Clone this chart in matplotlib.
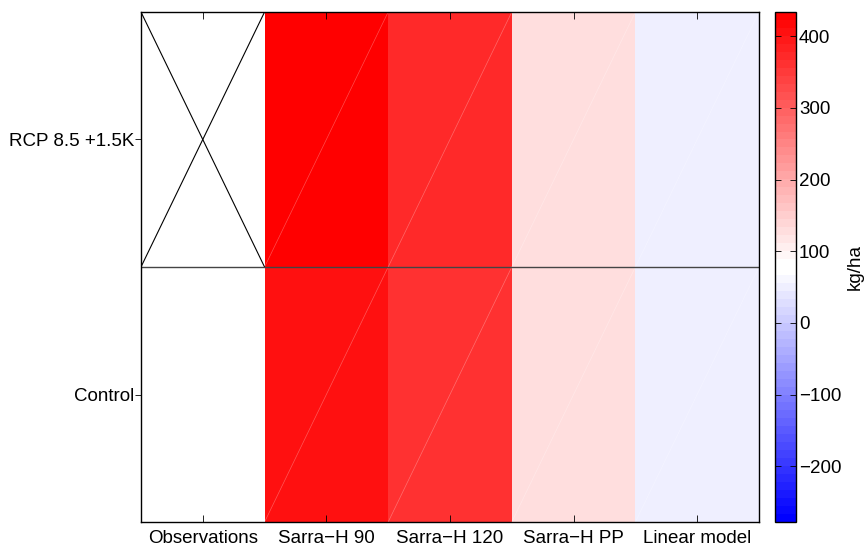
import numpy as np
import matplotlib
matplotlib.use('Agg')
import matplotlib.pyplot as plt
from matplotlib.colors import ListedColormap

plt.rcParams['font.family'] = ['Liberation Sans', 'DejaVu Sans']
plt.rcParams['font.size'] = 13.5

# data (kg/ha), rows bottom -> top
models = ['Observations', 'Sarra\u2212H 90', 'Sarra\u2212H 120', 'Sarra\u2212H PP', 'Linear model']
scenarios = ['Control', 'RCP 8.5 +1.5K']
control = [78, 405, 362, 124, 54]
rcp = [np.nan, 432, 370, 124, 54]
cbar_ticks = [-200, -100, 0, 100, 200, 300, 400]
vmin, vmax = -278, 434

data = np.array([control, rcp], dtype=float)

# 64-level blue-white-red map, two white bins in the middle
t = np.linspace(0, 1, 32)
lower = np.column_stack([t, t, np.ones(32)])
upper = np.column_stack([np.ones(32), 1 - t, 1 - t])
cmap = ListedColormap(np.vstack([lower, upper]))
cmap.set_bad('white')

fig = plt.figure(figsize=(8.67, 5.5), dpi=100)
ax = fig.add_axes([0.1626, 0.0509, 0.7128, 0.9273])
cax = fig.add_axes([0.894, 0.0509, 0.0242, 0.9273])

ncol = len(models)
nrow = len(scenarios)
mesh = ax.pcolormesh(np.arange(ncol + 1), np.arange(nrow + 1),
                     np.ma.masked_invalid(data), cmap=cmap, vmin=vmin, vmax=vmax)

# faint diagonal seams like the original renderer
for r in range(nrow):
    for c in range(1, ncol):
        ax.plot([c, c + 1], [r, r + 1], color='white', lw=0.5, alpha=0.3)

# cross on missing cells
for r in range(nrow):
    for c in range(ncol):
        if np.isnan(data[r, c]):
            ax.plot([c, c + 1], [r, r + 1], color='black', lw=0.8)
            ax.plot([c, c + 1], [r + 1, r], color='black', lw=0.8)

ax.axhline(1, color='#444444', lw=1.0)

ax.set_xlim(0, ncol)
ax.set_ylim(0, nrow)
ax.set_xticks(np.arange(ncol) + 0.5)
ax.set_xticklabels(models)
ax.set_yticks(np.arange(nrow) + 0.5)
ax.set_yticklabels(scenarios)
ax.tick_params(axis='x', direction='in', top=True, length=5, width=0.6, pad=6)
ax.tick_params(axis='y', direction='out', length=4, width=0.6, pad=1)
for s in ax.spines.values():
    s.set_linewidth(1.0)

cb = fig.colorbar(mesh, cax=cax, ticks=cbar_ticks)
cb.set_label('kg/ha', labelpad=4)
cb.ax.tick_params(direction='in', length=4, width=0.6, left=True, right=True, pad=2)
cb.outline.set_linewidth(1.0)

fig.savefig('out.png', dpi=100)
